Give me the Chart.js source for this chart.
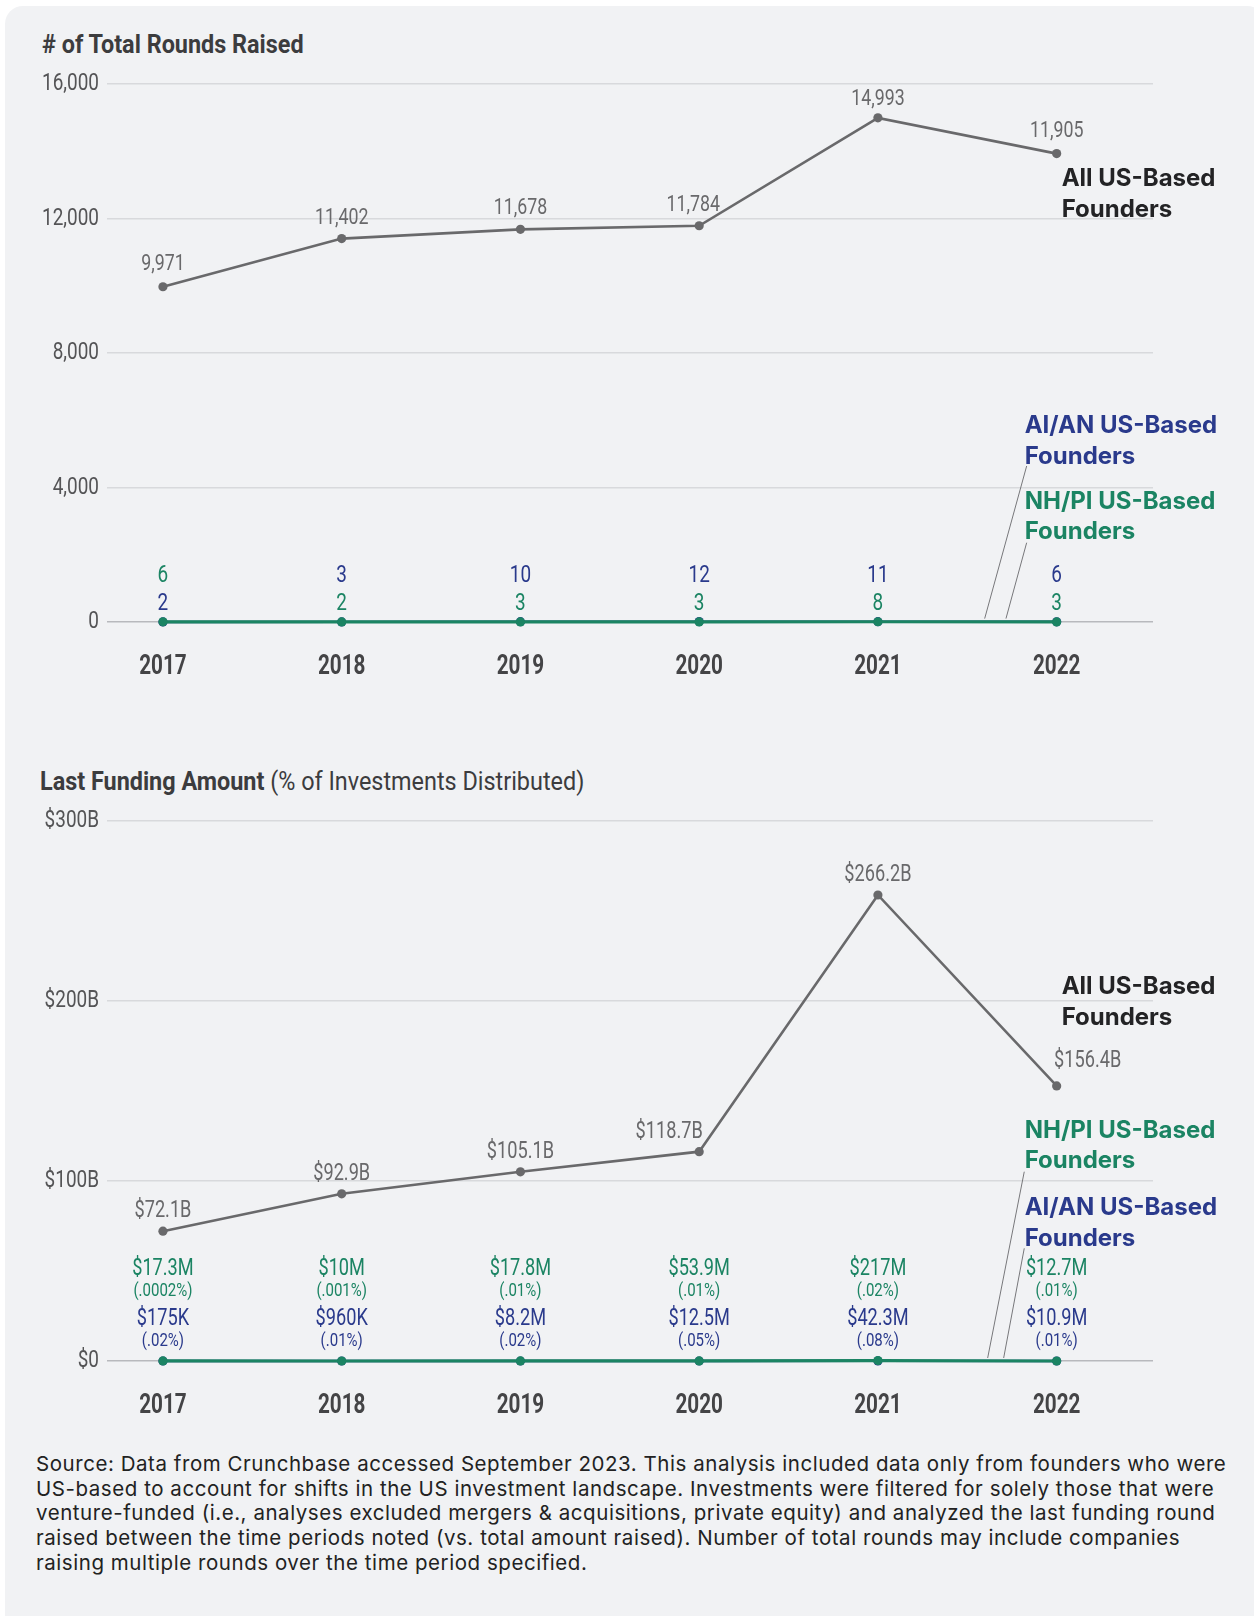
<!DOCTYPE html>
<html>
<head>
<meta charset="utf-8">
<script src="https://cdn.jsdelivr.net/npm/chart.js@4.4.1/dist/chart.umd.min.js"></script>
<style>
  html, body { margin: 0; padding: 0; background: #ffffff; }
  body { width: 1254px; height: 1616px; position: relative; overflow: hidden; }
  .panel { position: absolute; left: 5px; top: 6px; width: 1260px; height: 1640px; background: #f1f2f4; border-radius: 18px; }
  .title { position: absolute; font-family: Roboto, sans-serif; color: #3c3c3e; font-size: 26px; white-space: nowrap; transform: scaleX(0.9); transform-origin: 0 0; }
  .title b { font-weight: 700; }
  .title span { font-weight: 400; }
  .note { position: absolute; left: 36px; top: 1452px; font-family: Inter, 'Noto Sans', sans-serif; font-size: 20.5px; letter-spacing: 0.55px; line-height: 24.7px; color: #222; white-space: nowrap; }
  canvas { position: absolute; left: 0; }
</style>
</head>
<body>
<div class="panel"></div>
<div class="title" style="left:42px; top:29px;"><b># of Total Rounds Raised</b></div>
<div class="title" style="left:40px; top:766px;"><b>Last Funding Amount</b> <span>(% of Investments Distributed)</span></div>
<canvas id="c1" width="1254" height="700" style="top:0px;"></canvas>
<canvas id="c2" width="1254" height="700" style="top:720px;"></canvas>
<div class="note">
Source: Data from Crunchbase accessed September 2023. This analysis included data only from founders who were<br>
US-based to account for shifts in the US investment landscape. Investments were filtered for solely those that were<br>
venture-funded (i.e., analyses excluded mergers &amp; acquisitions, private equity) and analyzed the last funding round<br>
raised between the time periods noted (vs. total amount raised). Number of total rounds may include companies<br>
raising multiple rounds over the time period specified.
</div>
<script>
// ---------------- DATA ----------------
const years = [2017, 2018, 2019, 2020, 2021, 2022];

// Chart 1: # of total rounds raised (positions as plotted in the picture; 2022 point is drawn near 13,930)
const roundsAll = [9971, 11402, 11678, 11784, 14993, 13930];
const roundsAllLabels = ['9,971', '11,402', '11,678', '11,784', '14,993', '11,905'];
const roundsAIAN = [2, 3, 10, 12, 11, 6];
const roundsNHPI = [6, 2, 3, 3, 8, 3];
const roundsTicks = [0, 4000, 8000, 12000, 16000];

// Chart 2: last funding amount, in $ billions (positions as plotted in the picture)
const fundAll = [72.1, 92.9, 105.1, 116.3, 258.9, 152.8];
const fundAllLabels = ['$72.1B', '$92.9B', '$105.1B', '$118.7B', '$266.2B', '$156.4B'];
const fundNHPI = [0.0173, 0.010, 0.0178, 0.0539, 0.217, 0.0127];
const fundNHPILabels = ['$17.3M', '$10M', '$17.8M', '$53.9M', '$217M', '$12.7M'];
const fundNHPIPct = ['(.0002%)', '(.001%)', '(.01%)', '(.01%)', '(.02%)', '(.01%)'];
const fundAIAN = [0.000175, 0.00096, 0.0082, 0.0125, 0.0423, 0.0109];
const fundAIANLabels = ['$175K', '$960K', '$8.2M', '$12.5M', '$42.3M', '$10.9M'];
const fundAIANPct = ['(.02%)', '(.01%)', '(.02%)', '(.05%)', '(.08%)', '(.01%)'];
const fundTicks = [0, 100, 200, 300];

const seriesNames = { all: ['All US-Based', 'Founders'], aian: ['AI/AN US-Based', 'Founders'], nhpi: ['NH/PI US-Based', 'Founders'] };

// ---------------- STYLE ----------------
const NUM = "Roboto, sans-serif";
const SANS = "Inter, 'Noto Sans', sans-serif";
const GRAY = '#69696b', GREEN = '#1b8463', NAVY = '#2a3a8c';
const labelDx1 = [0, 0, 0, -6, 0, 0];
const labelDy1 = [-17, -15, -15, -15, -13, -17];
const labelDx2 = [0, 0, 0, -30, 0, 31];
const labelDy2 = [-14, -14, -14, -14, -14, -19];

// Condensed rendering of the Roboto number text (the original uses a condensed face)
function condense(canvas) {
  const ctx = canvas.getContext('2d');
  const orig = ctx.fillText;
  ctx.fillText = function (text, x, y, maxW) {
    const f = this.font;
    if (f.indexOf('Roboto') === -1) {
      return maxW === undefined ? orig.call(this, text, x, y) : orig.call(this, text, x, y, maxW);
    }
    const s = /bold|700/.test(f) ? 0.74 : 0.79;
    this.save(); this.translate(x, y); this.scale(s, 1);
    orig.call(this, text, 0, 0);
    this.restore();
  };
}

function pts(vals) { return vals.map((v, i) => ({ x: years[i], y: v })); }

function lineDs(vals, color, width, order) {
  return { data: pts(vals), borderColor: color, backgroundColor: color, borderWidth: width,
    pointRadius: 4.6, pointHoverRadius: 4.6, pointBorderWidth: 0, pointBackgroundColor: color,
    tension: 0, order: order, clip: false };
}

function baseOptions(yMax, yTicks, fmt) {
  return {
    responsive: false, animation: false, devicePixelRatio: 1,
    layout: { padding: { left: 0, right: 101, top: 0, bottom: 0 } },
    plugins: { legend: { display: false }, tooltip: { enabled: false } },
    scales: {
      x: {
        type: 'linear', min: 2016.687, max: 2022.539,
        afterBuildTicks: (ax) => { ax.ticks = years.map(v => ({ value: v })); },
        afterFit: (ax) => { ax.height = 60; },
        grid: { display: false, drawTicks: false }, border: { display: false },
        ticks: { callback: (v) => String(v), padding: 28, maxRotation: 0, autoSkip: false,
          color: '#444446', font: { family: NUM, size: 28, weight: 'bold' } }
      },
      y: {
        min: 0, max: yMax,
        afterBuildTicks: (ax) => { ax.ticks = yTicks.map(v => ({ value: v })); },
        afterFit: (ax) => { ax.width = 107; },
        grid: { drawTicks: false, lineWidth: 1.5, color: (c) => c.tick && c.tick.value === 0 ? '#b8b9bd' : '#d8d9dc' },
        border: { display: false },
        ticks: { callback: fmt, padding: 8, color: '#545456', font: { family: NUM, size: 24 } }
      }
    }
  };
}

function drawName(ctx, lines, x, y0, color) {
  ctx.save();
  ctx.font = "700 24px " + SANS;
  ctx.fillStyle = color; ctx.textAlign = 'left'; ctx.textBaseline = 'alphabetic';
  ctx.fillText(lines[0], x, y0);
  ctx.fillText(lines[1], x, y0 + 30.5);
  ctx.restore();
}
function leader(ctx, x1, y1, x2, y2) {
  ctx.save(); ctx.strokeStyle = '#77777a'; ctx.lineWidth = 1;
  ctx.beginPath(); ctx.moveTo(x1, y1); ctx.lineTo(x2, y2); ctx.stroke(); ctx.restore();
}

// ---------------- CHART 1 ----------------
const c1 = document.getElementById('c1');
condense(c1);
const opt1 = baseOptions(16000, roundsTicks, (v) => v.toLocaleString('en-US'));
opt1.layout.padding.top = 84;
opt1.layout.padding.bottom = 700 - 622 - 60;

const plugin1 = {
  id: 'labels1',
  afterDatasetsDraw(chart) {
    const ctx = chart.ctx, xs = chart.scales.x, ys = chart.scales.y, top = chart.chartArea.top;
    const zero = ys.getPixelForValue(0);
    const mAll = chart.getDatasetMeta(0).data;
    ctx.save();
    ctx.textAlign = 'center'; ctx.textBaseline = 'alphabetic';
    ctx.font = "22.5px " + NUM; ctx.fillStyle = GRAY;
    mAll.forEach((el, i) => ctx.fillText(roundsAllLabels[i], el.x + labelDx1[i], el.y + labelDy1[i]));
    ctx.font = "24px " + NUM;
    years.forEach((yr, i) => {
      const x = xs.getPixelForValue(yr);
      const aTop = roundsAIAN[i] >= roundsNHPI[i];
      ctx.fillStyle = aTop ? NAVY : GREEN;
      ctx.fillText(String(aTop ? roundsAIAN[i] : roundsNHPI[i]), x, zero - 40);
      ctx.fillStyle = aTop ? GREEN : NAVY;
      ctx.fillText(String(aTop ? roundsNHPI[i] : roundsAIAN[i]), x, zero - 12);
    });
    ctx.restore();
    const x22 = xs.getPixelForValue(2022);
    drawName(ctx, seriesNames.all, x22 + 5, top + 102, '#232325');
    drawName(ctx, seriesNames.aian, x22 - 32, top + 349, NAVY);
    drawName(ctx, seriesNames.nhpi, x22 - 32, top + 424.5, GREEN);
    leader(ctx, x22 - 30, top + 382, x22 - 72, zero - 3.4);
    leader(ctx, x22 - 30, top + 458.7, x22 - 50.7, zero - 3.4);
  }
};

new Chart(c1, {
  type: 'line',
  data: { datasets: [
    lineDs(roundsAll, GRAY, 2.6, 0),
    lineDs(roundsNHPI, GREEN, 3.2, 1),
    lineDs(roundsAIAN, NAVY, 2.4, 2)
  ] },
  options: opt1,
  plugins: [plugin1]
});

// ---------------- CHART 2 ----------------
const c2 = document.getElementById('c2');
condense(c2);
const opt2 = baseOptions(300, fundTicks, (v) => '$' + v + (v === 0 ? '' : 'B'));
opt2.layout.padding.top = 821 - 720;
opt2.layout.padding.bottom = 700 - (1361 - 720) - 60;

const plugin2 = {
  id: 'labels2',
  afterDatasetsDraw(chart) {
    const ctx = chart.ctx, xs = chart.scales.x, ys = chart.scales.y, top = chart.chartArea.top;
    const zero = ys.getPixelForValue(0);
    const mAll = chart.getDatasetMeta(0).data;
    ctx.save();
    ctx.textAlign = 'center'; ctx.textBaseline = 'alphabetic';
    ctx.font = "23px " + NUM; ctx.fillStyle = GRAY;
    mAll.forEach((el, i) => ctx.fillText(fundAllLabels[i], el.x + labelDx2[i], el.y + labelDy2[i]));
    years.forEach((yr, i) => {
      const x = xs.getPixelForValue(yr);
      const nTop = fundNHPI[i] >= fundAIAN[i];
      const upper = nTop ? [fundNHPILabels[i], fundNHPIPct[i], GREEN] : [fundAIANLabels[i], fundAIANPct[i], NAVY];
      const lower = nTop ? [fundAIANLabels[i], fundAIANPct[i], NAVY] : [fundNHPILabels[i], fundNHPIPct[i], GREEN];
      ctx.fillStyle = upper[2];
      ctx.font = "23px " + NUM; ctx.fillText(upper[0], x, zero - 86);
      ctx.font = "19px " + NUM; ctx.fillText(upper[1], x, zero - 65);
      ctx.fillStyle = lower[2];
      ctx.font = "23px " + NUM; ctx.fillText(lower[0], x, zero - 36);
      ctx.font = "19px " + NUM; ctx.fillText(lower[1], x, zero - 15);
    });
    ctx.restore();
    const x22 = xs.getPixelForValue(2022);
    drawName(ctx, seriesNames.all, x22 + 5, top + 173.3, '#232325');
    drawName(ctx, seriesNames.nhpi, x22 - 32, top + 316.7, GREEN);
    drawName(ctx, seriesNames.aian, x22 - 32, top + 394, NAVY);
    leader(ctx, x22 - 32.4, top + 350.7, x22 - 69, zero - 3);
    leader(ctx, x22 - 32.4, top + 427.3, x22 - 53, zero - 3);
  }
};

new Chart(c2, {
  type: 'line',
  data: { datasets: [
    lineDs(fundAll, GRAY, 2.6, 0),
    lineDs(fundNHPI, GREEN, 3.2, 1),
    lineDs(fundAIAN, NAVY, 2.4, 2)
  ] },
  options: opt2,
  plugins: [plugin2]
});
</script>
</body>
</html>
